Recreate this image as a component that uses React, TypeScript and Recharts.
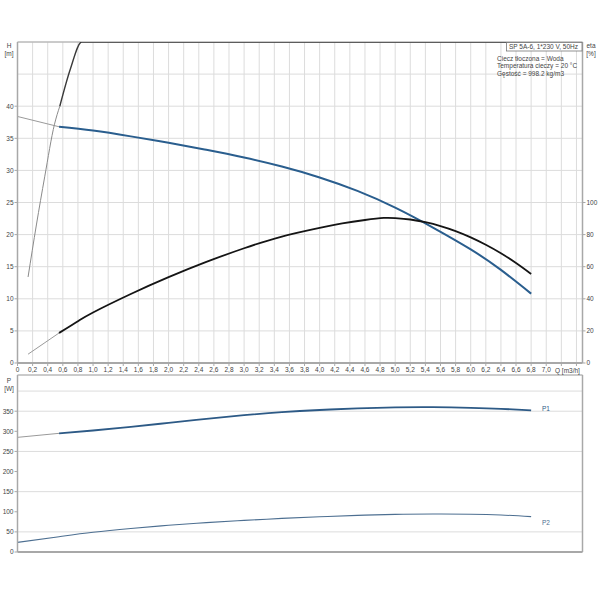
import React from "react";
import { LineChart, Line, XAxis, YAxis, CartesianGrid, ReferenceLine } from "recharts";

// ---- tick labels ----
const qTicks = [0, 0.2, 0.4, 0.6, 0.8, 1.0, 1.2, 1.4, 1.6, 1.8, 2.0, 2.2, 2.4, 2.6, 2.8, 3.0, 3.2, 3.4, 3.6, 3.8, 4.0, 4.2, 4.4, 4.6, 4.8, 5.0, 5.2, 5.4, 5.6, 5.8, 6.0, 6.2, 6.4, 6.6, 6.8, 7.0, 7.2, 7.4];
const hTicks = [0, 5, 10, 15, 20, 25, 30, 35, 40];
const etaTicks = [0, 20, 40, 60, 80, 100];
const pTicks = [0, 50, 100, 150, 200, 250, 300, 350];

// ---- series values ----
const hExtQ = [0, 0.55];
const hExtV = [38.4, 36.8];
const hQ = [0.55, 1.0, 1.5, 2.0, 2.5, 3.0, 3.5, 4.0, 4.5, 5.0, 5.5, 6.0, 6.4, 6.8];
const hV = [36.8, 36.2, 35.3, 34.3, 33.2, 32.0, 30.6, 28.9, 26.8, 24.2, 21.1, 17.7, 14.5, 10.8];

const etaExtQ = [0.14, 0.55];
const etaExtV = [5.5, 18.7];
const etaQ = [0.55, 0.8, 1.0, 1.5, 2.0, 2.5, 3.0, 3.5, 4.0, 4.3, 4.6, 4.85, 5.0, 5.2, 5.4, 5.6, 5.8, 6.0, 6.2, 6.4, 6.6, 6.8];
const etaV = [18.7, 26, 31.5, 43, 53.5, 63, 71.5, 78.8, 84.2, 87, 89.1, 90.4, 90.3, 89.4, 87.7, 85.3, 82.2, 78.3, 73.7, 68.4, 62.3, 55.5];

const npshExtQ = [0.14, 0.25, 0.36, 0.49, 0.56];
const npshExtV = [13.4, 21.5, 29, 37.2, 40];
const npshQ = [0.56, 0.7, 0.85, 6.8];
const npshV = [40, 45.8, 50, 50];

const p1ExtQ = [0, 0.55];
const p1ExtV = [285, 295];
const p1Q = [0.55, 1.0, 1.5, 2.0, 2.5, 3.0, 3.5, 4.0, 4.5, 5.0, 5.5, 6.0, 6.4, 6.8];
const p1V = [295, 302, 311, 321, 331, 340, 347.5, 353, 357, 359.5, 360, 358.5, 356, 352];

const p2Q = [0, 0.55, 1.0, 1.5, 2.0, 2.5, 3.0, 3.5, 4.0, 4.5, 5.0, 5.5, 6.0, 6.4, 6.8];
const p2V = [24, 38, 49, 58.5, 66.5, 73, 78.5, 83.5, 87.5, 91, 93.5, 94.5, 94, 92, 88];

const zip = (q: number[], v: number[]) => q.map((x, i) => ({ q: x, v: v[i] }));

const FONT = "'Liberation Sans', Arial, sans-serif";
const tickStyle = { fontSize: 6.5, fill: "#444", fontFamily: FONT };
const GRID = "#dcdcdc";
const AXIS = "#a8a8a8";

const fmtQ = (v: number) => {
  if (v > 7.01) return "";
  if (v === 0) return "0";
  return v.toFixed(1).replace(".", ",");
};

export default function App() {
  return (
    <div style={{ position: "absolute", left: 0, top: 0, width: 600, height: 600, background: "#fff" }}>
      <div style={{ position: "absolute", left: 0, top: 0 }}>
        <LineChart width={600} height={380} margin={{ top: 42, right: 0, bottom: 0, left: 0 }}>
          <CartesianGrid yAxisId="h" stroke={GRID} strokeWidth={1} />
          <XAxis
            type="number"
            dataKey="q"
            domain={[0, 7.48]}
            ticks={qTicks}
            interval={0}
            tickFormatter={fmtQ}
            height={17}
            tickSize={3}
            tickMargin={1.5}
            tick={tickStyle}
            stroke={AXIS}
            axisLine={{ stroke: AXIS, strokeWidth: 2 }}
            allowDataOverflow
          />
          <YAxis
            yAxisId="h"
            type="number"
            domain={[0, 50]}
            ticks={hTicks}
            width={17.5}
            tickSize={3}
            tickMargin={1}
            tick={tickStyle}
            stroke={AXIS}
            axisLine={{ stroke: AXIS, strokeWidth: 1.5 }}
            allowDataOverflow
          />
          <YAxis
            yAxisId="eta"
            orientation="right"
            type="number"
            domain={[0, 200]}
            ticks={etaTicks}
            width={17.5}
            tickSize={3}
            tickMargin={1}
            tick={tickStyle}
            stroke={AXIS}
            axisLine={{ stroke: AXIS, strokeWidth: 1.5 }}
            allowDataOverflow
          />
          <ReferenceLine yAxisId="h" y={45} stroke={GRID} strokeWidth={1} />
          <ReferenceLine yAxisId="h" y={50} stroke={AXIS} strokeWidth={1.2} />
          <Line data={zip(hExtQ, hExtV)} dataKey="v" yAxisId="h" type="linear" stroke="#9a9a9a" strokeWidth={1} dot={false} activeDot={false} isAnimationActive={false} />
          <Line data={zip(hQ, hV)} dataKey="v" yAxisId="h" type="natural" stroke="#2a5e8e" strokeWidth={2} dot={false} activeDot={false} isAnimationActive={false} />
          <Line data={zip(etaExtQ, etaExtV)} dataKey="v" yAxisId="eta" type="linear" stroke="#9a9a9a" strokeWidth={1} dot={false} activeDot={false} isAnimationActive={false} />
          <Line data={zip(etaQ, etaV)} dataKey="v" yAxisId="eta" type="natural" stroke="#151515" strokeWidth={1.8} dot={false} activeDot={false} isAnimationActive={false} />
          <Line data={zip(npshExtQ, npshExtV)} dataKey="v" yAxisId="h" type="monotone" stroke="#8a8a8a" strokeWidth={1} dot={false} activeDot={false} isAnimationActive={false} />
          <Line data={zip(npshQ, npshV)} dataKey="v" yAxisId="h" type="monotone" stroke="#3a3a3a" strokeWidth={1.4} dot={false} activeDot={false} isAnimationActive={false} />
        </LineChart>
      </div>
      <div style={{ position: "absolute", left: 0, top: 372 }}>
        <LineChart width={600} height={190} margin={{ top: 3, right: 0, bottom: 0, left: 0 }}>
          <CartesianGrid yAxisId="p" stroke={GRID} strokeWidth={1} />
          <XAxis
            type="number"
            dataKey="q"
            domain={[0, 7.48]}
            ticks={qTicks}
            interval={0}
            tick={false}
            tickLine={false}
            height={10}
            axisLine={{ stroke: AXIS, strokeWidth: 2 }}
            allowDataOverflow
          />
          <YAxis
            yAxisId="p"
            type="number"
            domain={[0, 440]}
            ticks={pTicks}
            width={17.5}
            tickSize={3}
            tickMargin={1}
            tick={tickStyle}
            stroke={AXIS}
            axisLine={{ stroke: AXIS, strokeWidth: 1.5 }}
            allowDataOverflow
          />
          <YAxis
            yAxisId="pr"
            orientation="right"
            type="number"
            domain={[0, 440]}
            width={17.5}
            tick={false}
            tickLine={false}
            axisLine={{ stroke: AXIS, strokeWidth: 1.5 }}
          />
          <ReferenceLine yAxisId="p" y={400} stroke={GRID} strokeWidth={1} />
          <ReferenceLine yAxisId="p" y={440} stroke={AXIS} strokeWidth={1.2} />
          <Line data={zip(p1ExtQ, p1ExtV)} dataKey="v" yAxisId="p" type="linear" stroke="#9a9a9a" strokeWidth={1} dot={false} activeDot={false} isAnimationActive={false} />
          <Line data={zip(p1Q, p1V)} dataKey="v" yAxisId="p" type="natural" stroke="#2d5a86" strokeWidth={1.8} dot={false} activeDot={false} isAnimationActive={false} />
          <Line data={zip(p2Q, p2V)} dataKey="v" yAxisId="p" type="natural" stroke="#4d6f91" strokeWidth={1.1} dot={false} activeDot={false} isAnimationActive={false} />
        </LineChart>
      </div>
      <svg width={600} height={600} style={{ position: "absolute", left: 0, top: 0, pointerEvents: "none" }} fontFamily={FONT} fontSize={6.5} fill="#444">
        <text x={9} y={48} textAnchor="middle">H</text>
        <text x={9} y={56} textAnchor="middle">[m]</text>
        <text x={591} y={48} textAnchor="middle">eta</text>
        <text x={591} y={56} textAnchor="middle">[%]</text>
        <text x={9} y={383} textAnchor="middle">P</text>
        <text x={9} y={391} textAnchor="middle">[W]</text>
        <text x={555} y={372.5}>Q [m3/h]</text>
        <rect x={506.5} y={42.5} width={75.5} height={8.5} fill="#fff" stroke="#777" strokeWidth={0.8} />
        <text x={509} y={49.2}>SP 5A-6, 1*230 V, 50Hz</text>
        <text x={497} y={60.5}>Ciecz tłoczona = Woda</text>
        <text x={497} y={68}>Temperatura cieczy = 20 °C</text>
        <text x={497} y={75.5}>Gęstość = 998.2 kg/m3</text>
        <text x={542} y={410.5} fill="#2d5a86">P1</text>
        <text x={542} y={524.5} fill="#4d6f91">P2</text>
      </svg>
    </div>
  );
}
